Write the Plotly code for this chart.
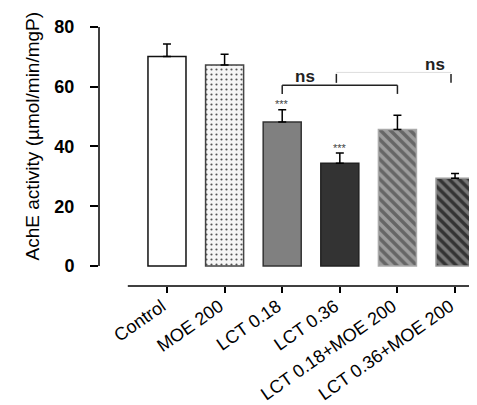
import plotly.graph_objects as go

categories = ["Control", "MOE 200", "LCT 0.18", "LCT 0.36", "LCT 0.18+MOE 200", "LCT 0.36+MOE 200"]
means = [70.1, 67.3, 48.2, 34.4, 45.7, 29.4]
sem = [4.2, 3.6, 4.1, 3.4, 4.8, 1.6]
stars = ["", "", "***", "***", "", ""]
y_ticks = [0, 20, 40, 60, 80]

bg_colors = ["#ffffff", "#f6f6f6", "#808080", "#333333", "#9c9c9c", "#777777"]
fg_colors = ["#ffffff", "#555555", "#808080", "#333333", "#666666", "#333333"]
shapes_p = ["", ".", "", "", "\\", "\\"]
sizes_p = [8, 5, 8, 8, 7, 7]
solid_p = [0.3, 0.15, 0.3, 0.3, 0.5, 0.5]
line_colors = ["#111111", "#444444", "#333333", "#222222", "#aaaaaa", "#999999"]

FONT = "Liberation Sans, Arial, sans-serif"

fig = go.Figure()
for i, cat in enumerate(categories):
    pat = dict(shape=shapes_p[i], fgcolor=fg_colors[i], bgcolor=bg_colors[i],
               size=sizes_p[i], solidity=solid_p[i], fillmode="replace")
    fig.add_trace(go.Bar(
        x=[cat], y=[means[i]], width=0.66,
        marker=dict(color=bg_colors[i], line=dict(color=line_colors[i], width=1.5),
                    pattern=pat),
        error_y=dict(type="data", symmetric=False, array=[sem[i]], arrayminus=[0],
                     color="black", thickness=1.5, width=4),
        showlegend=False,
    ))

# significance stars
for c, m, s, st in zip(categories, means, sem, stars):
    if st:
        fig.add_annotation(x=c, y=m + s + 1.8, text=st, showarrow=False,
                           font=dict(size=11, color="#444444", family=FONT), yanchor="middle")

shapes = []
# y-axis line from 0 to 80
shapes.append(dict(type="line", xref="paper", yref="y", x0=0, x1=0, y0=0, y1=80,
                   line=dict(color="black", width=1.5)))
# x-axis line
shapes.append(dict(type="line", xref="x", yref="paper", x0=-0.68, x1=5.6, y0=0, y1=0,
                   line=dict(color="black", width=1.5)))
# bracket 1 (LCT 0.18 vs LCT 0.18+MOE 200)
blk = dict(color="#222222", width=1.5)
shapes.append(dict(type="line", xref="x", yref="y", x0=2.0, x1=4.0, y0=60.5, y1=60.5, line=blk))
shapes.append(dict(type="line", xref="x", yref="y", x0=2.0, x1=2.0, y0=60.5, y1=57.6, line=blk))
shapes.append(dict(type="line", xref="x", yref="y", x0=4.0, x1=4.0, y0=60.5, y1=57.6, line=blk))
# bracket 2
shapes.append(dict(type="line", xref="x", yref="y", x0=2.94, x1=2.94, y0=64.3, y1=61.3, line=blk))
shapes.append(dict(type="line", xref="x", yref="y", x0=2.94, x1=4.93, y0=64.8, y1=64.8,
                   line=dict(color="#dddddd", width=1)))
shapes.append(dict(type="line", xref="x", yref="y", x0=4.93, x1=4.93, y0=64.3, y1=61.3, line=blk))

fig.add_annotation(x=2.4, y=63.3, xref="x", yref="y", text="ns", showarrow=False,
                   font=dict(size=17, color="#222222", family=FONT, weight="bold"))
fig.add_annotation(x=4.65, y=67.4, xref="x", yref="y", text="ns", showarrow=False,
                   font=dict(size=17, color="#222222", family=FONT, weight="bold"))

# y title
fig.add_annotation(x=-0.172, y=0.58, xref="paper", yref="paper", xanchor="center", yanchor="middle",
                   text="AchE activity (µmol/min/mgP)", textangle=-90, showarrow=False,
                   font=dict(size=19, color="black", family=FONT))

fig.update_layout(
    width=477, height=405,
    margin=dict(l=91, r=0, t=19, b=127),
    paper_bgcolor="white", plot_bgcolor="white",
    font=dict(family=FONT, color="black"),
    shapes=shapes,
    barmode="overlay",
)
fig.update_xaxes(type="category", range=[-1.18, 5.52], showline=False, showgrid=False,
                 zeroline=False, ticks="outside", ticklen=6, tickwidth=1.5, tickcolor="black",
                 tickangle=-35, ticklabelstandoff=-4, ticklabelshift=-5,
                 tickfont=dict(size=18, family=FONT, color="black"))
fig.update_yaxes(range=[-6.7, 80], tickvals=y_ticks, showline=False, showgrid=False,
                 zeroline=False, ticks="outside", ticklen=8, tickwidth=1.5, tickcolor="black",
                 ticklabelstandoff=12,
                 tickfont=dict(size=18, family=FONT, color="black", weight="bold"))

fig.write_html("out.html")
